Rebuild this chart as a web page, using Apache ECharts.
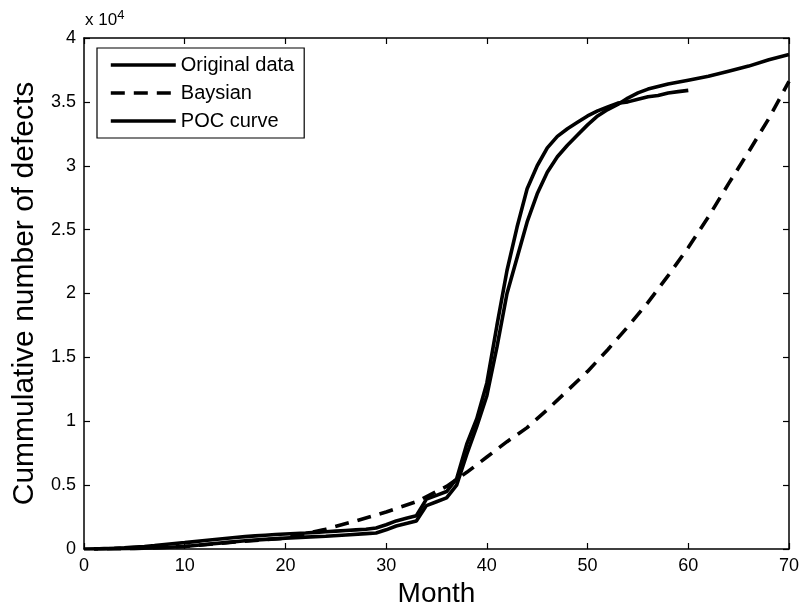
<!DOCTYPE html>
<html>
<head>
<meta charset="utf-8">
<script src="https://cdn.jsdelivr.net/npm/echarts@6/dist/echarts.min.js"></script>
<style>
html,body{margin:0;padding:0;background:#fff;}
#chart{width:800px;height:611px;}
</style>
</head>
<body>
<div id="chart"></div>
<script>
// Values in units of 10^4 defects
var originalMonths = [1,2,3,4,5,6,7,8,9,10,11,12,13,14,15,16,17,18,19,20,21,22,23,24,25,26,27,28,29,30,31,32,33,34,35,36,37,38,39,40,41,42,43,44,45,46,47,48,49,50,51,52,53,54,55,56,57,58,59,60];
var originalValues = [0,0.003,0.006,0.01,0.015,0.02,0.027,0.035,0.043,0.05,0.058,0.066,0.074,0.082,0.09,0.097,0.103,0.108,0.113,0.117,0.121,0.125,0.13,0.135,0.14,0.145,0.15,0.155,0.165,0.19,0.22,0.24,0.26,0.39,0.42,0.45,0.55,0.82,1.02,1.3,1.75,2.18,2.52,2.82,3.0,3.14,3.23,3.29,3.34,3.39,3.43,3.46,3.49,3.5,3.52,3.54,3.55,3.57,3.58,3.59];

var baysianMonths = [0,5,10,15,20,24,27,30,33,36,38,40,42,44,46,48,50,52,54,56,58,60,62,64,66,68,70];
var baysianValues = [0,0.004,0.02,0.055,0.085,0.155,0.22,0.29,0.37,0.49,0.6,0.72,0.84,0.95,1.09,1.24,1.39,1.56,1.74,1.93,2.14,2.36,2.6,2.86,3.11,3.37,3.66];

var pocMonths = [1,5,8,10,12,14,16,18,20,22,24,26,28,29,30,31,32,33,34,35,36,37,38,39,40,41,42,43,44,45,46,47,48,49,50,51,52,53,54,55,56,57,58,60,62,64,66,68,70];
var pocValues = [0,0.005,0.012,0.02,0.035,0.05,0.065,0.075,0.085,0.093,0.1,0.11,0.12,0.125,0.15,0.18,0.2,0.22,0.34,0.37,0.4,0.5,0.74,0.96,1.2,1.58,2.0,2.28,2.56,2.78,2.95,3.07,3.16,3.24,3.32,3.39,3.44,3.48,3.53,3.57,3.6,3.62,3.64,3.67,3.7,3.74,3.78,3.83,3.87];

var xTicks = [0,10,20,30,40,50,60,70];
var yTicks = [0,0.5,1,1.5,2,2.5,3,3.5,4];

function zip(xs, ys){ var out=[]; for(var i=0;i<xs.length;i++){ out.push([xs[i], ys[i]]); } return out; }

var FONT = 'Liberation Sans, Arial, Helvetica, sans-serif';
var chart = echarts.init(document.getElementById('chart'), null, {renderer:'canvas'});

var axisLine = {show:true, onZero:false, lineStyle:{color:'#000', width:1.5}};
var axisTick = {show:true, inside:true, length:6, lineStyle:{color:'#000', width:1.2}};

chart.setOption({
  animation:false,
  backgroundColor:'#fff',
  grid:{left:84, right:11, top:38, bottom:62, containLabel:false, outerBoundsMode:'none'},
  legend:{
    orient:'vertical', left:97, top:48,
    data:['Original data','Baysian','POC curve'],
    itemWidth:65, itemHeight:14, itemGap:8,
    itemStyle:{opacity:0},
    lineStyle:{width:3.6},
    borderColor:'#000', borderWidth:1.2,
    padding:[7,10,7,12],
    textStyle:{fontFamily:FONT, fontSize:20, color:'#000'}
  },
  xAxis:[{
    type:'value', min:0, max:70, interval:10, position:'bottom',
    name:'Month', nameLocation:'middle', nameGap:31,
    nameTextStyle:{fontFamily:FONT, fontSize:28, color:'#000'},
    axisLine:axisLine, axisTick:axisTick, splitLine:{show:false},
    axisLabel:{fontFamily:FONT, fontSize:18, color:'#000', margin:8}
  },{
    type:'value', min:0, max:70, interval:10, position:'top',
    axisLine:axisLine, axisTick:axisTick, splitLine:{show:false},
    axisLabel:{show:false}
  }],
  yAxis:[{
    type:'value', min:0, max:4, interval:0.5, position:'left',
    name:'Cummulative number of defects', nameLocation:'middle', nameGap:37,
    nameTextStyle:{fontFamily:FONT, fontSize:30, color:'#000'},
    axisLine:axisLine, axisTick:axisTick, splitLine:{show:false},
    axisLabel:{fontFamily:FONT, fontSize:18, color:'#000', margin:8,
      formatter:function(v){ return String(v); }}
  },{
    type:'value', min:0, max:4, interval:0.5, position:'right',
    axisLine:axisLine, axisTick:axisTick, splitLine:{show:false},
    axisLabel:{show:false}
  }],
  graphic:[{
    type:'text', left:85, top:9,
    style:{
      text:'x 10{sup|4}',
      rich:{sup:{fontSize:13, verticalAlign:'top', padding:[0,0,10,0], fontFamily:FONT, fill:'#000'}},
      font:'17px ' + FONT, fill:'#000'
    }
  }],
  series:[{
    name:'Original data', type:'line', symbol:'none', z:3,
    data:zip(originalMonths, originalValues),
    lineStyle:{color:'#000', width:3.6}, itemStyle:{color:'#000'}
  },{
    name:'Baysian', type:'line', symbol:'none', z:2,
    data:zip(baysianMonths, baysianValues),
    lineStyle:{color:'#000', width:3.6, type:[14,9]}, itemStyle:{color:'#000'}
  },{
    name:'POC curve', type:'line', symbol:'none', z:3,
    data:zip(pocMonths, pocValues),
    lineStyle:{color:'#000', width:3.6}, itemStyle:{color:'#000'}
  }]
});
</script>
</body>
</html>
